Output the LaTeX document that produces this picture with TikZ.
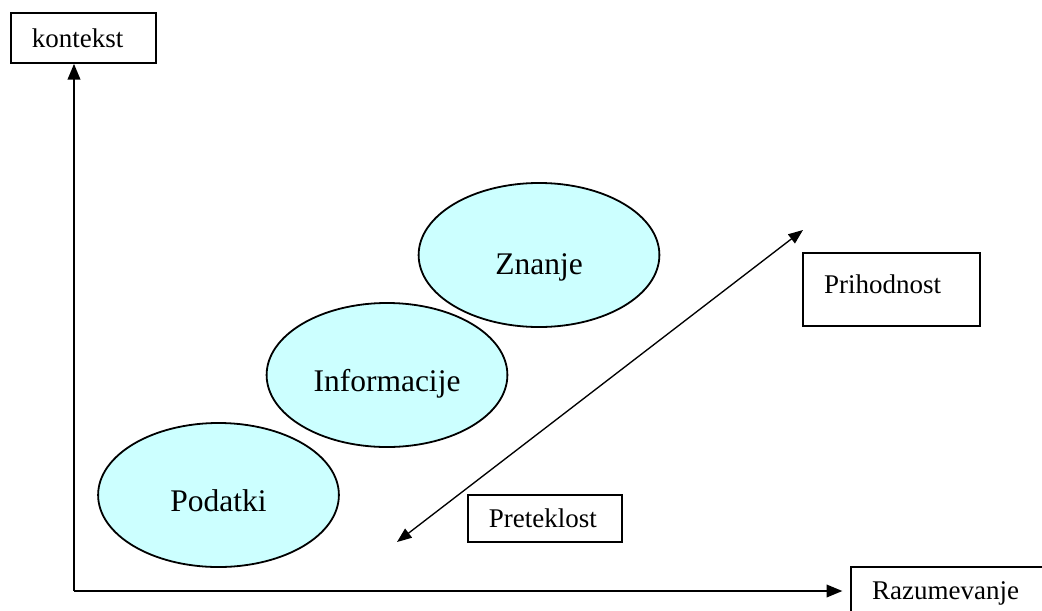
\documentclass[tikz,border=0pt]{standalone}
\usepackage{fontspec}
\setmainfont{Liberation Serif}
\usepackage{tikz}
\usetikzlibrary{arrows.meta,positioning,shapes.geometric}
\definecolor{ConceptCyan}{HTML}{CCFFFF}
\tikzset{
  concept/.style={ellipse, draw=black, line width=0.8pt, fill=ConceptCyan,
    minimum width=107pt, minimum height=64pt, inner sep=0pt,
    font=\fontsize{14}{16}\selectfont, text height=15pt, text depth=0pt},
  tagbox/.style={draw=black, line width=0.7pt, fill=white, align=left,
    inner xsep=9.3pt, inner ysep=0pt, font=\fontsize{12}{14}\selectfont},
  axisline/.style={-{Triangle[length=7pt,width=5.5pt]}, line width=1pt},
  spanline/.style={{Triangle[length=6.5pt,width=5pt]}-{Triangle[length=6.5pt,width=5pt]},
    line width=0.6pt}
}
\begin{document}
\begin{tikzpicture}[x=0.4444pt, y=-0.4444pt]
  \useasboundingbox (0,0) rectangle (1042,610);
  \clip (0,0) rectangle (1042,610);
  % axes with their labels
  \node[tagbox, text width=45.8pt, minimum height=22.2pt] (kontekst) at (83.5,38) {kontekst};
  \node[tagbox, text width=70.2pt, minimum height=23.1pt] (razum) at (951,593) {Razumevanje};
  \coordinate (corner) at (74,591);
  \draw[axisline] (corner) -- (corner |- kontekst.south);
  \draw[axisline, shorten >=3.5pt] (corner) -- (corner -| razum.west);
  % the three concepts
  \node[concept] (podatki) at (218.5,495) {Podatki};
  \node[concept] (info) at (387,375) {Informacije};
  \node[concept, text height=17pt] (znanje) at (539,255) {Znanje};
  % time direction
  \coordinate (past) at (397,542);
  \coordinate (future) at (803,230);
  \draw[spanline] (past) -- (future);
  \node[tagbox, text width=49.8pt, minimum height=20.9pt] (preteklost) at (545,518.5) {Preteklost};
  \node[tagbox, text width=60pt, minimum height=32.4pt, text depth=5pt] (prihodnost) at (891.5,289.5) {Prihodnost};
\end{tikzpicture}
\end{document}
